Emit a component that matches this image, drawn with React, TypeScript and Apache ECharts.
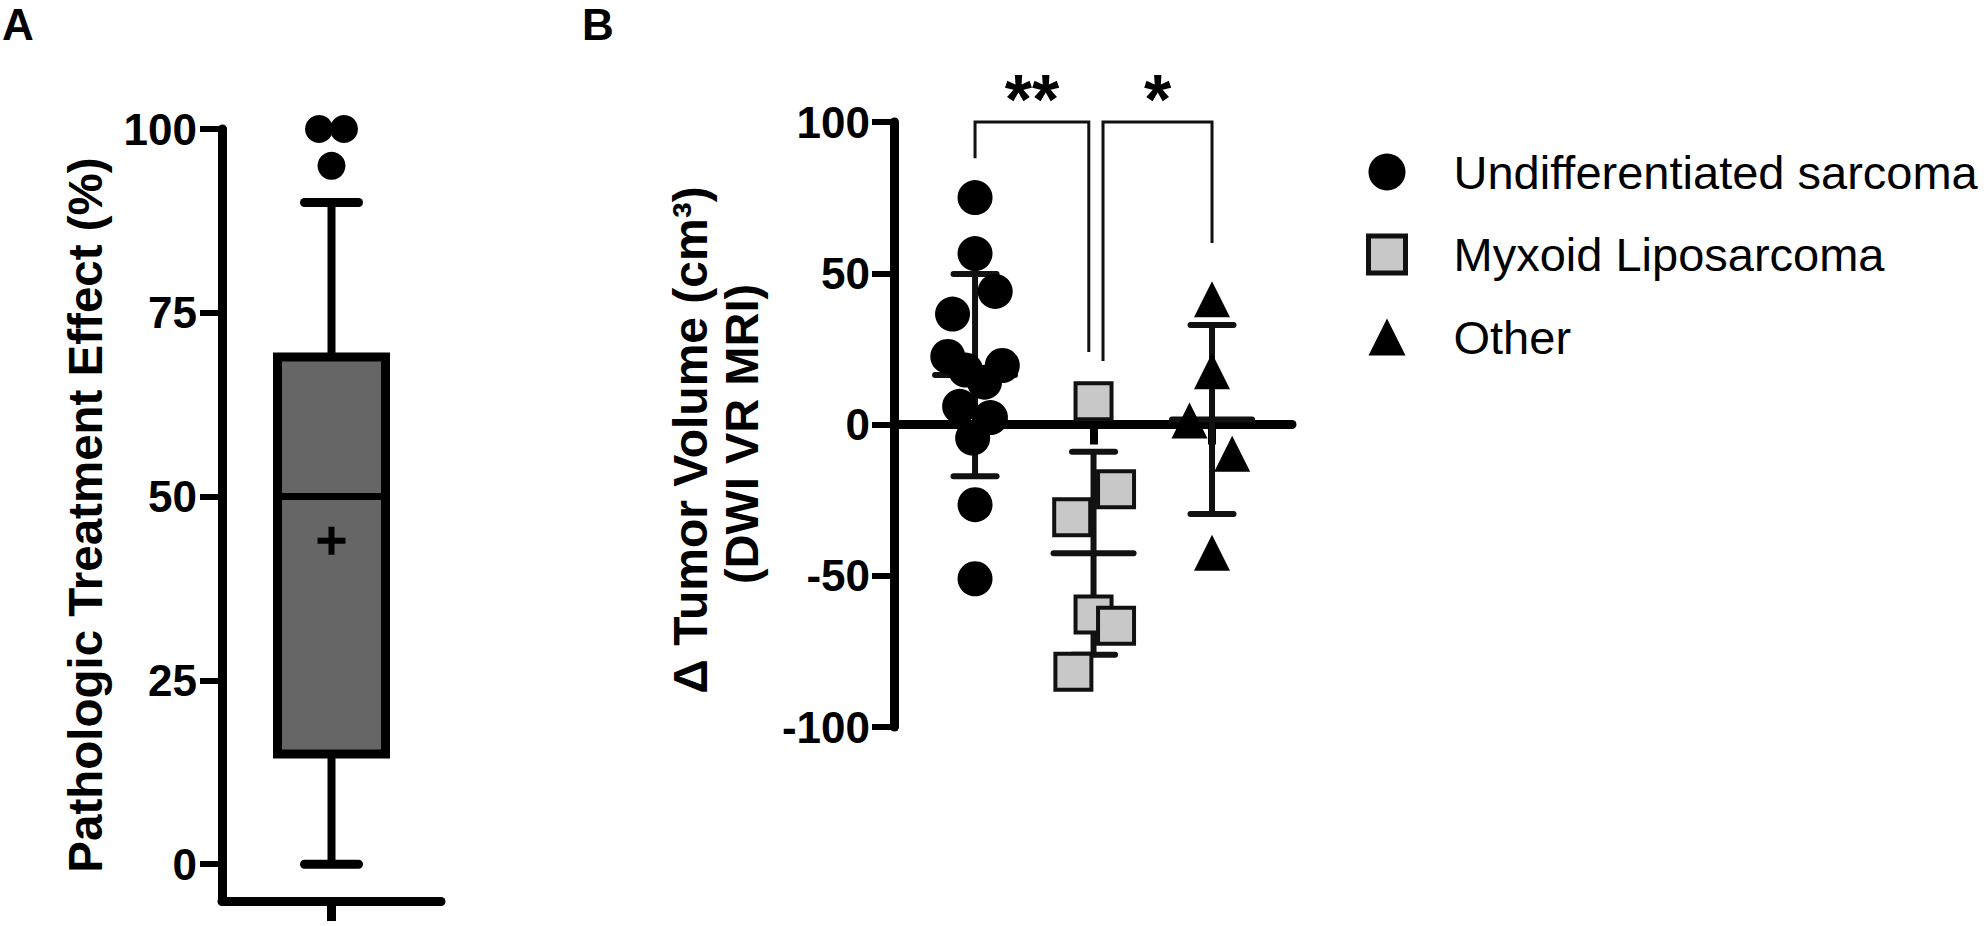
import React, { useEffect, useRef } from 'react';
import * as echarts from 'echarts';

const FONT = '"Liberation Sans", Arial, Helvetica, sans-serif';

// ---------- Panel A : box plot ----------
const boxStats = [0, 15, 50, 69, 90]; // min, Q1, median, Q3, max
const boxMean = 44;
const outlierValues = [100, 100, 95];
const outlierJitter = [-0.114, 0.114, 0];
const yTicksA = [0, 25, 50, 75, 100];
const titleA = 'Pathologic Treatment Effect (%)';

// ---------- Panel B : scatter with mean ± SD ----------
const groupNames = ['Undifferentiated sarcoma', 'Myxoid Liposarcoma', 'Other'];
const usValues = [75, 56.5, 44, 36.5, 22.5, 19.5, 18, 14, 6, 2.3, -4.5, -26.5, -51];
const usJitter = [0, 0, 0.17, -0.19, -0.23, 0.23, -0.08, 0.08, -0.13, 0.13, -0.02, 0, 0];
const mlValues = [7.7, -21.4, -30.7, -62.8, -66.5, -81.7];
const mlJitter = [0, 0.19, -0.18, 0, 0.19, -0.17];
const otValues = [41.4, 17.6, 1.3, -9.7, -42.4];
const otJitter = [0, 0, -0.19, 0.17, 0];
const yTicksB = [-100, -50, 0, 50, 100];
const titleB1 = 'Δ Tumor Volume (cm³)';
const titleB2 = '(DWI VR MRI)';

const bracketFrom = [1, 2.08];
const bracketTo = [1.96, 3];
const bracketTop = [100, 100];
const bracketFromEnd = [88, 21];
const bracketToEnd = [24, 60];
const bracketLabels = ['**', '*'];

const mean = (a: number[]) => a.reduce((s, v) => s + v, 0) / a.length;
const sd = (a: number[]) => {
  const m = mean(a);
  return Math.sqrt(a.reduce((s, v) => s + (v - m) * (v - m), 0) / (a.length - 1));
};

const seg = (x1: number, y1: number, x2: number, y2: number, w: number, cap: string = 'butt', color = '#000') => ({
  type: 'line',
  shape: { x1, y1, x2, y2 },
  style: { stroke: color, lineWidth: w, lineCap: cap },
});

const textStyle = (text: string, size: number, align: string) => ({
  text,
  fontSize: size,
  fontWeight: 'bold',
  fontFamily: FONT,
  fill: '#000',
  align,
  textAlign: align,
  verticalAlign: 'middle',
  textVerticalAlign: 'middle',
});

export default function App() {
  const ref = useRef<HTMLDivElement>(null);

  useEffect(() => {
    document.body.style.margin = '0';
    const chart = echarts.init(ref.current!, undefined, { renderer: 'svg' });

    const groups = [usValues, mlValues, otValues];
    const jitters = [usJitter, mlJitter, otJitter];
    const errData = groups.map((g, i) => [i + 1, mean(g), sd(g)]);
    const bracketData = bracketFrom.map((f, i) => [f, bracketTo[i], bracketTop[i], bracketFromEnd[i], bracketToEnd[i]]);

    const axisLabelStyle = {
      fontSize: 44,
      fontWeight: 'bold',
      fontFamily: FONT,
      color: '#000',
    };

    const option: any = {
      animation: false,
      backgroundColor: '#fff',
      textStyle: { fontFamily: FONT },
      grid: [
        { left: 222, top: 129, width: 219, height: 772 },
        { left: 894, top: 122, width: 398, height: 605 },
      ],
      xAxis: [
        {
          gridIndex: 0,
          type: 'value',
          min: 0,
          max: 2,
          axisLine: { show: true, onZero: false, lineStyle: { color: '#000', width: 9 } },
          axisTick: { show: true, customValues: [1], length: 20, lineStyle: { color: '#000', width: 9 } },
          axisLabel: { show: false },
          splitLine: { show: false },
        },
        {
          gridIndex: 1,
          type: 'value',
          min: 0.316,
          max: 3.675,
          axisLine: { show: true, onZero: true, lineStyle: { color: '#000', width: 9 } },
          axisTick: { show: true, customValues: [1, 2, 3], length: 20, lineStyle: { color: '#000', width: 8 } },
          axisLabel: { show: false },
          splitLine: { show: false },
        },
      ],
      yAxis: [
        {
          gridIndex: 0,
          type: 'value',
          min: -5,
          max: 100,
          axisLine: { show: true, onZero: false, lineStyle: { color: '#000', width: 9 } },
          axisTick: { show: true, customValues: yTicksA, length: 22, lineStyle: { color: '#000', width: 6 } },
          axisLabel: { ...axisLabelStyle, customValues: yTicksA, margin: 25 },
          splitLine: { show: false },
        },
        {
          gridIndex: 1,
          type: 'value',
          min: -100,
          max: 100,
          interval: 50,
          axisLine: { show: true, onZero: false, lineStyle: { color: '#000', width: 9 } },
          axisTick: { show: true, customValues: yTicksB, length: 22, lineStyle: { color: '#000', width: 6 } },
          axisLabel: { ...axisLabelStyle, customValues: yTicksB, margin: 24 },
          splitLine: { show: false },
        },
      ],
      legend: {
        orient: 'vertical',
        left: 1366,
        top: 148,
        padding: 0,
        itemWidth: 37,
        itemHeight: 37,
        itemGap: 34.5,
        selectedMode: false,
        textStyle: { fontSize: 47, lineHeight: 48, color: '#000', fontFamily: FONT, padding: [0, 0, 0, 43] },
        data: [
          { name: groupNames[0], itemStyle: { color: '#000', borderWidth: 0, opacity: 1 } },
          { name: groupNames[1], itemStyle: { color: '#c8c8c8', borderColor: '#111', borderWidth: 5, opacity: 1 } },
          { name: groupNames[2], itemStyle: { color: '#000', borderWidth: 0, opacity: 1 } },
        ],
      },
      graphic: [
        { type: 'text', x: 2, y: 24, style: textStyle('A', 44, 'left') },
        { type: 'text', x: 582, y: 24, style: textStyle('B', 44, 'left') },
        { type: 'text', x: 85, y: 515, rotation: Math.PI / 2, style: textStyle(titleA, 47.5, 'center') },
        { type: 'text', x: 690, y: 440, rotation: Math.PI / 2, style: textStyle(titleB1, 48, 'center') },
        { type: 'text', x: 741, y: 434, rotation: Math.PI / 2, style: textStyle(titleB2, 47, 'center') },
      ],
      series: [
        {
          name: 'box',
          type: 'custom',
          xAxisIndex: 0,
          yAxisIndex: 0,
          z: 2,
          data: [[1, ...boxStats, boxMean]],
          renderItem: (params: any, api: any) => {
            const x = api.value(0);
            const pMin = api.coord([x, api.value(1)]);
            const cx = pMin[0];
            const yMin = pMin[1];
            const yQ1 = api.coord([x, api.value(2)])[1];
            const yMed = api.coord([x, api.value(3)])[1];
            const yQ3 = api.coord([x, api.value(4)])[1];
            const yMax = api.coord([x, api.value(5)])[1];
            const yMean = api.coord([x, api.value(6)])[1];
            const half = 54;
            const capHalf = 27;
            const plus = 14;
            return {
              type: 'group',
              children: [
                seg(cx, yQ3, cx, yMax, 8),
                seg(cx, yQ1, cx, yMin, 8),
                seg(cx - capHalf, yMax, cx + capHalf, yMax, 9, 'round'),
                seg(cx - capHalf, yMin, cx + capHalf, yMin, 9, 'round'),
                {
                  type: 'rect',
                  shape: { x: cx - half, y: yQ3, width: 2 * half, height: yQ1 - yQ3 },
                  style: { fill: '#666666', stroke: '#000', lineWidth: 9 },
                },
                seg(cx - half, yMed, cx + half, yMed, 7),
                seg(cx - plus, yMean, cx + plus, yMean, 6),
                seg(cx, yMean - plus, cx, yMean + plus, 6),
              ],
            };
          },
        },
        {
          name: 'outliers',
          type: 'scatter',
          xAxisIndex: 0,
          yAxisIndex: 0,
          symbol: 'circle',
          symbolSize: 28,
          itemStyle: { color: '#000', opacity: 1 },
          data: outlierValues.map((v, i) => [1 + outlierJitter[i], v]),
        },
        {
          name: 'errorbars',
          type: 'custom',
          xAxisIndex: 1,
          yAxisIndex: 1,
          z: 1,
          data: errData,
          renderItem: (params: any, api: any) => {
            const x = api.value(0);
            const m = api.value(1);
            const s = api.value(2);
            const pm = api.coord([x, m]);
            const pt = api.coord([x, m + s]);
            const pb = api.coord([x, m - s]);
            const cx = pm[0];
            return {
              type: 'group',
              children: [
                seg(cx, pt[1], cx, pb[1], 6, 'butt', '#111'),
                seg(cx - 21.5, pt[1], cx + 21.5, pt[1], 6, 'round', '#111'),
                seg(cx - 21.5, pb[1], cx + 21.5, pb[1], 6, 'round', '#111'),
                seg(cx - 40, pm[1], cx + 40, pm[1], 6, 'round', '#111'),
              ],
            };
          },
        },
        {
          name: groupNames[0],
          type: 'scatter',
          xAxisIndex: 1,
          yAxisIndex: 1,
          z: 3,
          symbol: 'circle',
          symbolSize: 35,
          itemStyle: { color: '#000', opacity: 1 },
          data: usValues.map((v, i) => [1 + jitters[0][i], v]),
        },
        {
          name: groupNames[1],
          type: 'scatter',
          xAxisIndex: 1,
          yAxisIndex: 1,
          z: 3,
          symbol: 'rect',
          symbolSize: 36,
          itemStyle: { color: '#c8c8c8', borderColor: '#111', borderWidth: 4, opacity: 1 },
          data: mlValues.map((v, i) => [2 + jitters[1][i], v]),
        },
        {
          name: groupNames[2],
          type: 'scatter',
          xAxisIndex: 1,
          yAxisIndex: 1,
          z: 3,
          symbol: 'triangle',
          symbolSize: 36,
          itemStyle: { color: '#000', opacity: 1 },
          data: otValues.map((v, i) => [3 + jitters[2][i], v]),
        },
        {
          name: 'brackets',
          type: 'custom',
          xAxisIndex: 1,
          yAxisIndex: 1,
          z: 4,
          data: bracketData,
          renderItem: (params: any, api: any) => {
            const x1 = api.value(0);
            const x2 = api.value(1);
            const top = api.value(2);
            const e1 = api.value(3);
            const e2 = api.value(4);
            const a = api.coord([x1, e1]);
            const b = api.coord([x1, top]);
            const c = api.coord([x2, top]);
            const d = api.coord([x2, e2]);
            return {
              type: 'group',
              children: [
                {
                  type: 'polyline',
                  shape: { points: [a, b, c, d] },
                  style: { stroke: '#111', lineWidth: 3, fill: 'none' },
                },
                {
                  type: 'text',
                  x: (b[0] + c[0]) / 2,
                  y: b[1] - 22,
                  style: {
                    text: bracketLabels[params.dataIndex],
                    fontSize: 70,
                    fontWeight: 'bold',
                    fontFamily: FONT,
                    fill: '#000',
                    align: 'center',
                    verticalAlign: 'middle',
                  },
                },
              ],
            };
          },
        },
      ],
    };

    chart.setOption(option);
    return () => chart.dispose();
  }, []);

  return (
    <div
      ref={ref}
      style={{ position: 'absolute', left: 0, top: 0, width: 1988, height: 926, background: '#fff' }}
    />
  );
}
